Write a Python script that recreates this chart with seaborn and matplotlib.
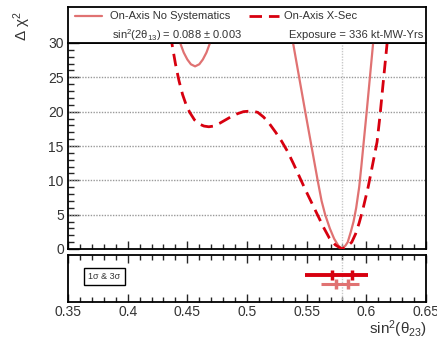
import numpy as np
import pandas as pd
import matplotlib
matplotlib.use("Agg")
import matplotlib.pyplot as plt
from matplotlib.ticker import MultipleLocator
import seaborn as sns

# ---- data ----
nosys_x = [0.432, 0.438, 0.441, 0.444, 0.447, 0.450, 0.453, 0.4565, 0.460, 0.463, 0.466,
           0.469, 0.472, 0.478, 0.490, 0.510, 0.530, 0.5386, 0.5437, 0.5488, 0.5540,
           0.5592, 0.5625, 0.5655, 0.5694, 0.5730, 0.5765, 0.5795, 0.5825, 0.5844, 0.5870,
           0.5893, 0.5915, 0.5940, 0.5958, 0.5977, 0.6003, 0.6030, 0.6057, 0.6090]
nosys_y = [40.0, 34.0, 32.0, 30.0, 28.6, 27.6, 26.9, 26.6, 26.9, 27.6, 28.6,
           30.0, 31.5, 35.0, 40.0, 42.0, 36.0, 30.0, 25.0, 20.0, 15.0,
           10.0, 7.0, 5.0, 3.0, 1.5, 0.5, 0.0, 0.5, 1.0, 2.5,
           4.0, 6.0, 9.0, 12.0, 15.4, 20.0, 25.0, 30.0, 36.0]

xsec_x = [0.433, 0.437, 0.440, 0.443, 0.446, 0.449, 0.452, 0.456, 0.460, 0.464, 0.468,
          0.472, 0.477, 0.482, 0.487, 0.492, 0.497, 0.504, 0.509, 0.514, 0.519,
          0.524, 0.529, 0.534, 0.539, 0.544, 0.549, 0.554, 0.559, 0.564, 0.569,
          0.574, 0.5795, 0.5835, 0.5878, 0.591, 0.594, 0.597, 0.600, 0.6015, 0.603,
          0.6055, 0.609, 0.6115, 0.614, 0.616, 0.618, 0.621]
xsec_y = [34.0, 30.0, 27.0, 24.5, 22.5, 21.0, 19.9, 18.8, 18.2, 17.9, 17.8,
          17.9, 18.3, 18.8, 19.3, 19.7, 20.0, 20.1, 19.9, 19.2, 18.2,
          17.0, 15.7, 14.2, 12.4, 10.5, 8.6, 6.8, 5.0, 3.2, 1.6,
          0.6, 0.0, 0.3, 1.0, 2.2, 3.8, 5.7, 7.9, 9.0, 10.3,
          12.5, 15.6, 19.5, 24.0, 27.5, 31.0, 36.0]

series_names = ["On-Axis No Systematics", "On-Axis X-Sec"]
sigma1_lo = [0.5746, 0.571]
sigma1_hi = [0.5844, 0.5878]
sigma3_lo = [0.562, 0.5487]
sigma3_hi = [0.594, 0.6015]
true_value = 0.58

x_ticks = [0.35, 0.40, 0.45, 0.50, 0.55, 0.60, 0.65]
x_tick_labels = ["0.35", "0.4", "0.45", "0.5", "0.55", "0.6", "0.65"]
y_ticks = [0, 5, 10, 15, 20, 25, 30]

# ---- style ----
sns.set_style("white")
plt.rcParams['font.family'] = ['Liberation Sans', 'DejaVu Sans']
plt.rcParams['mathtext.fontset'] = 'custom'
plt.rcParams['mathtext.rm'] = 'Liberation Sans'
plt.rcParams['mathtext.it'] = 'Liberation Sans:italic'
plt.rcParams['mathtext.bf'] = 'Liberation Sans:bold'

c_solid = '#e07272'
c_dash = '#d7000f'
txt_c = '#333333'

fig = plt.figure(figsize=(4.37, 3.42), dpi=100)
W, H = 437.0, 342.0
ax = fig.add_axes([68 / W, 93 / H, 358 / W, 206 / H])
axl = fig.add_axes([68 / W, 299 / H, 358 / W, 36 / H])
axb = fig.add_axes([68 / W, 40 / H, 358 / W, 47 / H])

df = pd.concat([
    pd.DataFrame({"x": nosys_x, "y": nosys_y, "s": series_names[0]}),
    pd.DataFrame({"x": xsec_x, "y": xsec_y, "s": series_names[1]}),
])

# grid lines
for yv in y_ticks[1:-1]:
    ax.axhline(yv, color='#9a9a9a', lw=1.0, ls=(0, (1, 1)), zorder=1)
ax.axvline(true_value, color='#c8c8c8', lw=1.0, ls=(0, (1, 1)), zorder=1)
axb.axvline(true_value, color='#c8c8c8', lw=1.0, ls=(0, (1, 1)), zorder=1)

sns.lineplot(data=df[df.s == series_names[0]], x="x", y="y", ax=ax, color=c_solid,
             lw=1.6, sort=False, estimator=None, zorder=3)
sns.lineplot(data=df[df.s == series_names[1]], x="x", y="y", ax=ax, color=c_dash,
             lw=2.0, sort=False, estimator=None, zorder=4)
ax.lines[-1].set_dashes((4.5, 2.5))
for ln in ax.lines[-2:]:
    ln.set_solid_joinstyle('round')
    ln.set_dash_joinstyle('round')

ax.set_xlim(0.35, 0.65)
ax.set_ylim(0, 30)
ax.set_xlabel("")
ax.set_ylabel("")
ax.set_yticks(y_ticks)
ax.set_yticklabels([str(v) for v in y_ticks], fontsize=10, color=txt_c)
ax.yaxis.set_minor_locator(MultipleLocator(1))
ax.xaxis.set_major_locator(MultipleLocator(0.05))
ax.xaxis.set_minor_locator(MultipleLocator(0.01))
ax.tick_params(axis='x', which='both', direction='in', bottom=True, top=False, labelbottom=False)
ax.tick_params(axis='x', which='major', length=6, width=1)
ax.tick_params(axis='x', which='minor', length=3.5, width=1)
ax.tick_params(axis='y', which='both', direction='in', left=True, right=False, pad=3)
ax.tick_params(axis='y', which='major', length=8, width=1)
ax.tick_params(axis='y', which='minor', length=4, width=1)
for sp in ax.spines.values():
    sp.set_linewidth(1.3)
    sp.set_color('black')

fig.text(22 / W, 1 - 11 / H, r'$\mathrm{\Delta\ \chi^{2}}$', rotation=90, ha='center', va='top',
         fontsize=11, color=txt_c)

# legend box axes
axl.set_xlim(0, 1)
axl.set_ylim(0, 1)
axl.set_xticks([])
axl.set_yticks([])
for sp in axl.spines.values():
    sp.set_linewidth(1.3)
    sp.set_color('black')
axl.plot([0.02, 0.095], [0.74, 0.74], color=c_solid, lw=1.6)
l2, = axl.plot([0.506, 0.588], [0.74, 0.74], color=c_dash, lw=2.0)
l2.set_dashes((4.5, 2.5))
fs_leg = 8
axl.text(0.117, 0.74, series_names[0], fontsize=fs_leg, va='center', ha='left', color=txt_c)
axl.text(0.603, 0.74, series_names[1], fontsize=fs_leg, va='center', ha='left', color=txt_c)
axl.text(0.123, 0.22, r'sin$^{2}$(2$\mathrm{\theta}_{13}$) = 0.088 $\pm$ 0.003', fontsize=fs_leg,
         va='center', ha='left', color=txt_c)
axl.text(0.617, 0.22, 'Exposure = 336 kt-MW-Yrs', fontsize=fs_leg, va='center', ha='left', color=txt_c)

# bottom panel: 1 sigma & 3 sigma bars
axb.set_xlim(0.35, 0.65)
axb.set_ylim(0, 1)
bar_y = [0.38, 0.57]
bar_c = [c_solid, c_dash]
bar_lw = [2.2, 2.8]
for i in range(2):
    axb.plot([sigma3_lo[i], sigma3_hi[i]], [bar_y[i], bar_y[i]], color=bar_c[i], lw=bar_lw[i],
             solid_capstyle='butt', zorder=3)
    axb.plot([sigma1_lo[i], sigma1_hi[i]], [bar_y[i], bar_y[i]], ls='none', marker='|',
             ms=6.5, mew=2.5, color=bar_c[i], zorder=4)
axb.text(0.102, 0.545, '1σ & 3σ', transform=axb.transAxes, fontsize=6.5, ha='center', va='center',
         color=txt_c, bbox=dict(boxstyle='square,pad=0.45', fc='white', ec='black', lw=1.0))
axb.set_xticks(x_ticks)
axb.set_xticklabels(x_tick_labels, fontsize=10, color=txt_c)
axb.xaxis.set_minor_locator(MultipleLocator(0.01))
axb.set_yticks([])
axb.tick_params(axis='x', which='both', direction='in', bottom=True, top=True, pad=2.5)
axb.tick_params(axis='x', which='major', length=6, width=1)
axb.tick_params(axis='x', which='minor', length=3.5, width=1)
for sp in axb.spines.values():
    sp.set_linewidth(1.3)
    sp.set_color('black')
fig.text(427 / W, 1 - 329 / H, r'sin$^{2}$($\mathrm{\theta}_{23}$)', fontsize=11, color=txt_c,
         ha='right', va='center')

fig.savefig("out.png", dpi=100)
